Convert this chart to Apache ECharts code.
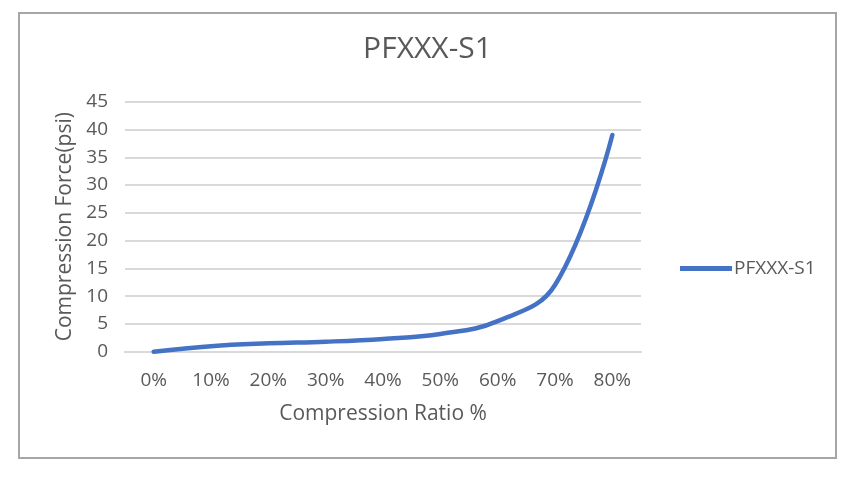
<!DOCTYPE html>
<html>
<head>
<meta charset="utf-8">
<script src="https://cdn.jsdelivr.net/npm/echarts@6/dist/echarts.min.js"></script>
<style>
  html, body { margin: 0; padding: 0; background: #fff; }
  #chart { width: 855px; height: 481px; }
</style>
</head>
<body>
<div id="chart"></div>
<script>
// 数据
const ratioLabels = ['0%', '10%', '20%', '30%', '40%', '50%', '60%', '70%', '80%'];
const forceValues = [0, 1.0, 1.5, 1.8, 2.3, 3.2, 5.5, 12, 39];
const seriesName = 'PFXXX-S1';

const textColor = '#595959';
const fontFamily = '"Open Sans", "Noto Sans", sans-serif';

const chart = echarts.init(document.getElementById('chart'));

chart.setOption({
  animation: false,
  textStyle: { fontFamily },
  title: {
    text: seriesName,
    left: 'center',
    top: 29,
    textStyle: { color: textColor, fontSize: 30, fontWeight: 'normal', fontFamily }
  },
  graphic: [{
    type: 'rect',
    shape: { x: 19, y: 13, width: 817, height: 445 },
    style: { fill: 'none', stroke: '#a6a6a6', lineWidth: 2 },
    silent: true
  }],
  legend: {
    data: [seriesName],
    left: 675,
    top: 254,
    icon: 'rect',
    itemWidth: 52,
    itemHeight: 5,
    itemGap: 4,
    textStyle: { color: textColor, fontSize: 19, fontFamily, padding: [0, 0, 0, -3] }
  },
  grid: { left: 125, right: 214, top: 101.7, bottom: 129.3 },
  xAxis: {
    type: 'category',
    data: ratioLabels,
    boundaryGap: true,
    name: 'Compression Ratio %',
    nameLocation: 'middle',
    nameGap: 52,
    nameTextStyle: { color: textColor, fontSize: 21, fontFamily },
    axisLine: { show: true, lineStyle: { color: '#d9d9d9', width: 2 } },
    axisTick: { show: false },
    axisLabel: { color: textColor, fontSize: 19, margin: 19, fontFamily }
  },
  yAxis: {
    type: 'value',
    min: 0,
    max: 45,
    interval: 5,
    name: 'Compression Force(psi)',
    nameLocation: 'middle',
    nameGap: 49,
    nameTextStyle: { color: textColor, fontSize: 21, fontFamily },
    axisLine: { show: false },
    axisTick: { show: false },
    axisLabel: { color: textColor, fontSize: 19, margin: 17, fontFamily },
    splitLine: { lineStyle: { color: '#d9d9d9', width: 2 } }
  },
  series: [{
    name: seriesName,
    type: 'line',
    data: forceValues,
    smooth: 0.4,
    showSymbol: false,
    symbol: 'none',
    itemStyle: { color: '#4472c4' },
    lineStyle: { color: '#4472c4', width: 4.5, cap: 'round' }
  }]
});

window.addEventListener('resize', () => chart.resize());
</script>
</body>
</html>
